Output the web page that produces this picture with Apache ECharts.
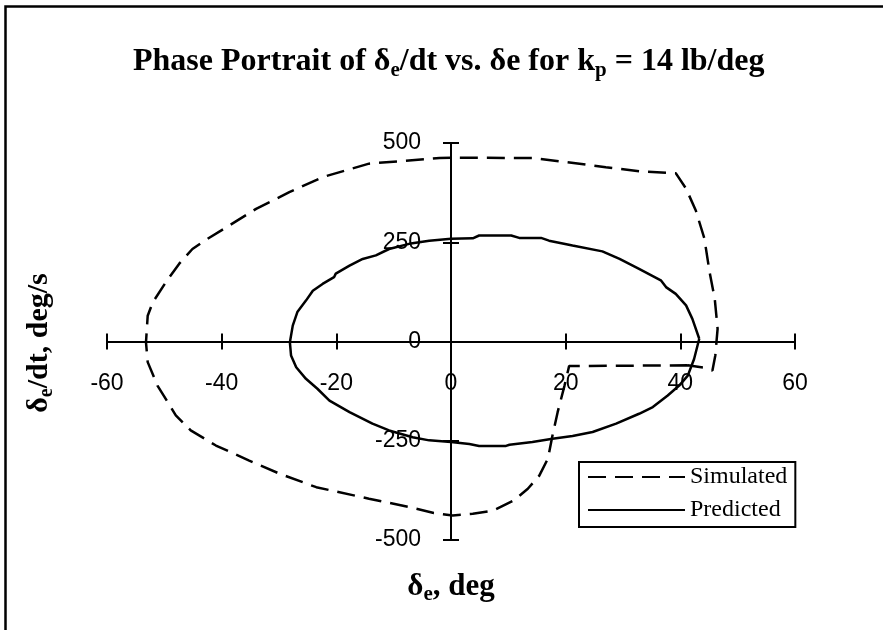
<!DOCTYPE html>
<html>
<head>
<meta charset="utf-8">
<script src="https://cdn.jsdelivr.net/npm/echarts@6/dist/echarts.min.js"></script>
<style>
  html, body { margin: 0; padding: 0; background: #fff; }
  #chart { width: 883px; height: 630px; }
</style>
</head>
<body>
<div id="chart"></div>
<script>
// Simulated trajectory (deg, deg/s), one full cycle
const simulatedX = [41.3, 30.0, 20.6, 19.8, 18.6, 17.7, 16.9, 15.4, 13.4, 11.0, 7.3, 3.8, 0.3, -3.0, -7.3,
  -14.3, -23.5, -29.9, -35.2, -41.0, -45.4, -48.0, -49.4, -51.2, -52.9, -53.2, -52.9, -52.0, -49.7,
  -47.4, -45.1, -43.0, -38.7, -34.0, -28.2, -22.4, -14.3, -2.0, 0.0, 14.2, 20.1, 27.0, 32.8, 39.2,
  41.0, 42.7, 44.2, 45.1, 46.0, 46.5, 46.1, 45.6, 44.3, 41.3];
const simulatedY = [-60, -61, -62, -111, -178, -237, -295, -338, -371, -400, -426, -434, -438, -432, -417,
  -396, -367, -333, -300, -262, -224, -186, -153, -111, -52, -2, 65, 99, 150,
  196, 233, 254, 292, 334, 376, 414, 448, 462, 463, 462, 452, 439, 429, 424,
  385, 330, 259, 175, 108, 32, -35, -73, -66, -60];

// Predicted phase trajectory
const predictedX = [43.3, 42.4, 41.3, 39.8, 37.8, 35.2, 32.8, 28.8, 24.7, 21.2, 17.7, 14.2, 10.2, 9.6, 4.9,
  3.2, 0.0, -3.8, -6.7, -10.8, -13.7, -17.7, -21.2, -23.3, -25.3, -27.0, -27.9, -28.1, -27.6, -26.8,
  -25.3, -24.1, -22.4, -20.4, -20.1, -17.7, -15.4, -13.1, -10.8, -7.3, -3.8, 0.0, 3.8, 4.9, 10.5,
  11.9, 15.7, 17.1, 21.2, 26.4, 29.4, 32.8, 36.6, 37.5, 39.2, 41.0, 42.1, 43.3];
const predictedY = [7, -44, -86, -111, -136, -165, -182, -207, -228, -238, -245, -253, -260, -263, -263,
  -258, -253, -249, -241, -224, -207, -178, -149, -119, -94, -65, -35, -2, 40, 74,
  103, 128, 145, 162, 171, 191, 208, 217, 233, 246, 254, 259, 260, 267, 267,
  261, 261, 254, 242, 227, 208, 183, 154, 137, 120, 91, 57, 7];

// Axis ranges and tick steps
const xRange = [-60, 60];
const xStep = 20;
const yRange = [-500, 500];
const yStep = 250;

// Plot rectangle
const GRID = { left: 107, right: 88, top: 143, bottom: 90 };
const PLOT_W = 883 - GRID.left - GRID.right;
const PLOT_H = 630 - GRID.top - GRID.bottom;

const serifBold = { fontFamily: 'Liberation Serif', fontWeight: 'bold', color: '#000' };
const black = '#000';

function pairs(xs, ys) {
  return xs.map((x, i) => [x, ys[i]]);
}

// kind: 'out' = axis line + outward ticks, 'in' = inward ticks, 'labels' = tick labels only
function makeAxis(dim, index, kind) {
  const isX = dim === 'x';
  const base = {
    type: 'value',
    min: isX ? xRange[0] : yRange[0],
    max: isX ? xRange[1] : yRange[1],
    interval: isX ? xStep : yStep,
    position: isX ? 'bottom' : 'left',
    splitLine: { show: false }
  };
  if (kind === 'labels') {
    // Shift the label-only axis from the plot edge to the zero line
    return Object.assign(base, {
      offset: isX ? -PLOT_H / 2 : -PLOT_W / 2,
      axisLine: { show: false, onZero: false },
      axisTick: { show: false },
      axisLabel: {
        show: true,
        margin: isX ? 31 : 30,
        fontFamily: 'Liberation Sans',
        fontSize: 23,
        color: black
      }
    });
  }
  return Object.assign(base, {
    axisLine: {
      show: true,
      onZero: true,
      onZeroAxisIndex: index,
      lineStyle: { color: black, width: 2 }
    },
    axisTick: {
      show: true,
      inside: kind === 'in',
      length: 8,
      lineStyle: { color: black, width: 2 }
    },
    axisLabel: { show: false }
  });
}

const chart = echarts.init(document.getElementById('chart'), null, { renderer: 'canvas' });

chart.setOption({
  animation: false,
  backgroundColor: '#fff',
  title: {
    left: 128,
    top: 38,
    text: '{b|Phase Portrait of δ}{s|e}{b|/dt vs. δe for k}{s|p}{b| = 14 lb/deg}',
    textStyle: {
      rich: {
        b: Object.assign({ fontSize: 32, lineHeight: 38 }, serifBold),
        s: Object.assign({ fontSize: 21, lineHeight: 27, verticalAlign: 'bottom' }, serifBold)
      }
    }
  },
  grid: Object.assign({ containLabel: false, outerBoundsMode: 'none' }, GRID),
  xAxis: [makeAxis('x', 0, 'out'), makeAxis('x', 1, 'in'), makeAxis('x', 2, 'labels')],
  yAxis: [makeAxis('y', 0, 'out'), makeAxis('y', 1, 'in'), makeAxis('y', 2, 'labels')],
  legend: {
    orient: 'vertical',
    left: 579,
    top: 462,
    padding: [3, 8, 5, 8],
    itemGap: 9,
    itemWidth: 97,
    itemHeight: 14,
    borderColor: black,
    borderWidth: 2,
    backgroundColor: '#fff',
    selectedMode: false,
    itemStyle: { color: 'rgba(0,0,0,0)', borderWidth: 0, opacity: 0 },
    textStyle: { fontFamily: 'Liberation Serif', fontSize: 24, lineHeight: 24, color: black },
    data: ['Simulated', 'Predicted']
  },
  graphic: [
    {
      type: 'rect',
      shape: { x: 5.5, y: 6.5, width: 1000, height: 1000 },
      style: { fill: 'none', stroke: black, lineWidth: 2.5 },
      silent: true,
      z: 100
    },
    {
      type: 'text',
      x: 451,
      y: 587,
      style: {
        text: '{b|δ}{s|e}{b|, deg}',
        align: 'center',
        verticalAlign: 'middle',
        rich: {
          b: Object.assign({ fontSize: 31, lineHeight: 36 }, serifBold),
          s: Object.assign({ fontSize: 21, lineHeight: 26, verticalAlign: 'bottom' }, serifBold)
        }
      },
      silent: true
    },
    {
      type: 'text',
      x: 39,
      y: 343,
      rotation: Math.PI / 2,
      style: {
        text: '{b|δ}{s|e}{b|/dt, deg/s}',
        align: 'center',
        verticalAlign: 'middle',
        rich: {
          b: Object.assign({ fontSize: 30, lineHeight: 36 }, serifBold),
          s: Object.assign({ fontSize: 20, lineHeight: 26, verticalAlign: 'bottom' }, serifBold)
        }
      },
      silent: true
    }
  ],
  series: [
    {
      name: 'Simulated',
      type: 'line',
      xAxisIndex: 0,
      yAxisIndex: 0,
      data: pairs(simulatedX, simulatedY),
      symbol: 'none',
      showSymbol: false,
      smooth: false,
      silent: true,
      itemStyle: { color: black },
      lineStyle: { color: black, width: 2.5, type: [18, 9] },
      z: 3
    },
    {
      name: 'Predicted',
      type: 'line',
      xAxisIndex: 0,
      yAxisIndex: 0,
      data: pairs(predictedX, predictedY),
      symbol: 'none',
      showSymbol: false,
      smooth: false,
      silent: true,
      itemStyle: { color: black },
      lineStyle: { color: black, width: 2.5, type: 'solid' },
      z: 3
    }
  ]
});
</script>
</body>
</html>
